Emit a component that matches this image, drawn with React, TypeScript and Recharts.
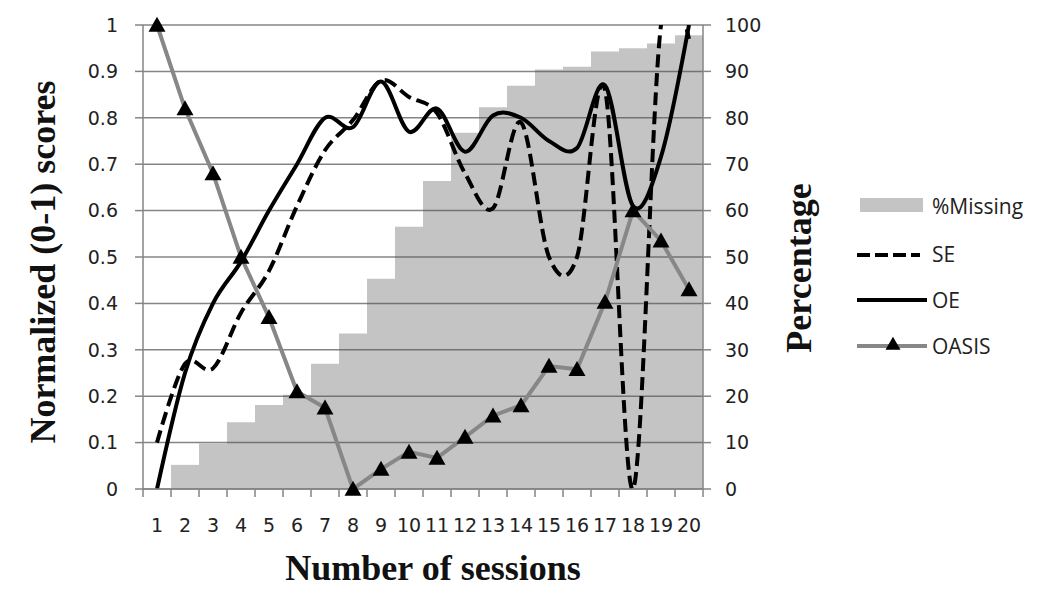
import React from "react";
import {
  ComposedChart,
  Bar,
  Line,
  XAxis,
  YAxis,
  CartesianGrid,
  Legend,
} from "recharts";

const sessions = ["1", "2", "3", "4", "5", "6", "7", "8", "9", "10", "11", "12", "13", "14", "15", "16", "17", "18", "19", "20"];
const missingPct = [0, 5.2, 9.8, 14.4, 18.1, 20.3, 27, 33.5, 45.3, 56.5, 66.4, 76.8, 82.3, 86.9, 90.4, 91, 94.3, 95, 96, 97.8];
const seScores = [0.1, 0.27, 0.26, 0.38, 0.47, 0.61, 0.73, 0.795, 0.88, 0.845, 0.81, 0.68, 0.605, 0.79, 0.5, 0.5, 0.86, 0.0, 1.0, 0.97];
const oeScores = [0.0, 0.25, 0.4, 0.49, 0.6, 0.7, 0.8, 0.78, 0.878, 0.77, 0.82, 0.727, 0.805, 0.8, 0.75, 0.735, 0.87, 0.61, 0.716, 1.0];
const oasisScores = [1.0, 0.82, 0.68, 0.5, 0.37, 0.21, 0.175, 0.0, 0.043, 0.08, 0.067, 0.112, 0.158, 0.18, 0.265, 0.258, 0.403, 0.6, 0.535, 0.43];
const scoreTicks = [0, 0.1, 0.2, 0.3, 0.4, 0.5, 0.6, 0.7, 0.8, 0.9, 1];
const pctTicks = [0, 10, 20, 30, 40, 50, 60, 70, 80, 90, 100];

const data = sessions.map((s, i) => ({
  session: s,
  missing: missingPct[i],
  se: seScores[i],
  oe: oeScores[i],
  oasis: oasisScores[i],
}));

const PLOT_LEFT = 143;
const PLOT_RIGHT = 703;
const BAND = (PLOT_RIGHT - PLOT_LEFT) / sessions.length;
const AXIS = "#858585";
const BAR_GRAY = "#c4c4c4";
const OASIS_GRAY = "#878787";
const TICK_FONT = "'DejaVu Sans', Verdana, sans-serif";
const LABEL_FONT = "'Liberation Serif', 'Times New Roman', serif";

// excel-like smoothed line (catmull-rom style cardinal, tension 0)
class SmoothCurve {
  _context: any;
  _k = 1 / 6;
  _line = NaN;
  _point = 0;
  _x0 = NaN; _x1 = NaN; _x2 = NaN;
  _y0 = NaN; _y1 = NaN; _y2 = NaN;
  constructor(context: any) {
    this._context = context;
  }
  areaStart() { this._line = 0; }
  areaEnd() { this._line = NaN; }
  lineStart() {
    this._x0 = this._x1 = this._x2 = this._y0 = this._y1 = this._y2 = NaN;
    this._point = 0;
  }
  seg(x: number, y: number) {
    this._context.bezierCurveTo(
      this._x1 + this._k * (this._x2 - this._x0),
      this._y1 + this._k * (this._y2 - this._y0),
      this._x2 + this._k * (this._x1 - x),
      this._y2 + this._k * (this._y1 - y),
      this._x2,
      this._y2
    );
  }
  lineEnd() {
    if (this._point === 2) this._context.lineTo(this._x2, this._y2);
    else if (this._point === 3) this.seg(this._x1, this._y1);
    if (this._line || (this._line !== 0 && this._point === 1)) this._context.closePath();
    this._line = 1 - this._line;
  }
  point(x: number, y: number) {
    x = +x; y = +y;
    if (this._point === 0) {
      this._point = 1;
      if (this._line) this._context.lineTo(x, y);
      else this._context.moveTo(x, y);
    } else if (this._point === 1) {
      this._point = 2;
      this._x1 = x; this._y1 = y;
    } else {
      this._point = 3;
      this.seg(x, y);
    }
    this._x0 = this._x1; this._x1 = this._x2; this._x2 = x;
    this._y0 = this._y1; this._y1 = this._y2; this._y2 = y;
  }
}
const smooth: any = (context: any) => new SmoothCurve(context);

const triangle = (cx: number, cy: number, w: number, h: number) =>
  `M${cx},${cy - h * 0.55} L${cx + w / 2},${cy + h * 0.45} L${cx - w / 2},${cy + h * 0.45} Z`;

const TriangleDot = (props: any) => {
  const { cx, cy, index } = props;
  if (cx == null || cy == null) return <g key={`t-${index}`} />;
  return <path key={`t-${index}`} d={triangle(cx, cy, 17, 15)} fill="#000" />;
};

const SessionTick = (props: any) => {
  const { x, y, payload, index } = props;
  const left = x - BAND / 2;
  return (
    <g>
      <line x1={left} x2={left} y1={y} y2={y + 8} stroke={AXIS} strokeWidth={1.5} />
      {index === sessions.length - 1 && (
        <line x1={x + BAND / 2} x2={x + BAND / 2} y1={y} y2={y + 8} stroke={AXIS} strokeWidth={1.5} />
      )}
      <text x={x} y={y + 43} textAnchor="middle" fontFamily={TICK_FONT} fontSize={19} fill="#222">
        {payload.value}
      </text>
    </g>
  );
};

const LeftLabel = () => (
  <text
    x={55}
    y={262}
    transform="rotate(-90, 55, 262)"
    textAnchor="middle"
    fontFamily={LABEL_FONT}
    fontWeight="bold"
    fontSize={36}
    fill="#111"
  >
    Normalized (0-1) scores
  </text>
);

const RightLabel = () => (
  <text
    x={811}
    y={268}
    transform="rotate(-90, 811, 268)"
    textAnchor="middle"
    fontFamily={LABEL_FONT}
    fontWeight="bold"
    fontSize={36}
    fill="#111"
  >
    Percentage
  </text>
);

const BottomLabel = () => (
  <text x={433} y={580} textAnchor="middle" fontFamily={LABEL_FONT} fontWeight="bold" fontSize={36} fill="#111">
    Number of sessions
  </text>
);

const LegendBox = () => {
  const textProps = { x: 82, fontFamily: "'Open Sans', sans-serif", fontSize: 21, fill: "#222", dominantBaseline: "central" as const };
  return (
    <svg width={200} height={180}>
      <rect x={10} y={8} width={63} height={14} fill={BAR_GRAY} />
      <text {...textProps} y={16}>%Missing</text>
      <line x1={7} x2={70} y1={65} y2={65} stroke="#000" strokeWidth={4} strokeDasharray="13 5" />
      <text {...textProps} y={64}>SE</text>
      <line x1={7} x2={77} y1={110} y2={110} stroke="#000" strokeWidth={4} />
      <text {...textProps} y={110}>OE</text>
      <line x1={7} x2={77} y1={156} y2={156} stroke={OASIS_GRAY} strokeWidth={4} />
      <path d={triangle(43, 154, 15, 13)} fill="#000" />
      <text {...textProps} y={156}>OASIS</text>
    </svg>
  );
};

export default function App() {
  return (
    <div style={{ position: "absolute", left: 0, top: 0, width: 1050, height: 596, background: "#fff" }}>
      <ComposedChart
        width={1050}
        height={596}
        data={data}
        margin={{ top: 25, right: 287, bottom: 62, left: 0 }}
        barCategoryGap={0}
      >
        <CartesianGrid yAxisId="left" vertical={false} stroke={AXIS} strokeWidth={1.5} />
        <XAxis
          dataKey="session"
          type="category"
          height={45}
          interval={0}
          tickSize={0}
          tickMargin={0}
          tickLine={false}
          axisLine={{ stroke: AXIS, strokeWidth: 1.5 }}
          tick={<SessionTick />}
          label={<BottomLabel />}
        />
        <YAxis
          yAxisId="left"
          width={143}
          domain={[0, 1]}
          ticks={scoreTicks}
          allowDataOverflow
          tickSize={8}
          tickMargin={17}
          axisLine={{ stroke: AXIS, strokeWidth: 1.5 }}
          tickLine={{ stroke: AXIS, strokeWidth: 1.5 }}
          tick={{ fontFamily: TICK_FONT, fontSize: 19, fill: "#222" }}
          label={<LeftLabel />}
        />
        <YAxis yAxisId="marks" hide domain={[0, 1]} />
        <YAxis
          yAxisId="right"
          orientation="right"
          width={60}
          domain={[0, 100]}
          ticks={pctTicks}
          tickSize={8}
          tickMargin={14}
          axisLine={{ stroke: AXIS, strokeWidth: 1.5 }}
          tickLine={{ stroke: AXIS, strokeWidth: 1.5 }}
          tick={{ fontFamily: TICK_FONT, fontSize: 19, fill: "#222", textAnchor: "start" }}
          label={<RightLabel />}
        />
        <Legend
          layout="vertical"
          align="center"
          verticalAlign="middle"
          wrapperStyle={{ left: 850, top: 190, width: 200, height: 180 }}
          content={<LegendBox />}
        />
        <Bar
          yAxisId="right"
          dataKey="missing"
          fill="#515151"
          fillOpacity={0.34}
          isAnimationActive={false}
        />
        <Line
          yAxisId="left"
          dataKey="se"
          type={smooth}
          stroke="#000"
          strokeWidth={4}
          strokeDasharray="13 6"
          dot={false}
          activeDot={false}
          isAnimationActive={false}
        />
        <Line
          yAxisId="left"
          dataKey="oe"
          type={smooth}
          stroke="#000"
          strokeWidth={4}
          dot={false}
          activeDot={false}
          isAnimationActive={false}
        />
        <Line
          yAxisId="marks"
          dataKey="oasis"
          type="linear"
          stroke={OASIS_GRAY}
          strokeWidth={4}
          dot={(p: any) => <TriangleDot key={`t-${p.index}`} {...p} />}
          activeDot={false}
          isAnimationActive={false}
        />
      </ComposedChart>
    </div>
  );
}
